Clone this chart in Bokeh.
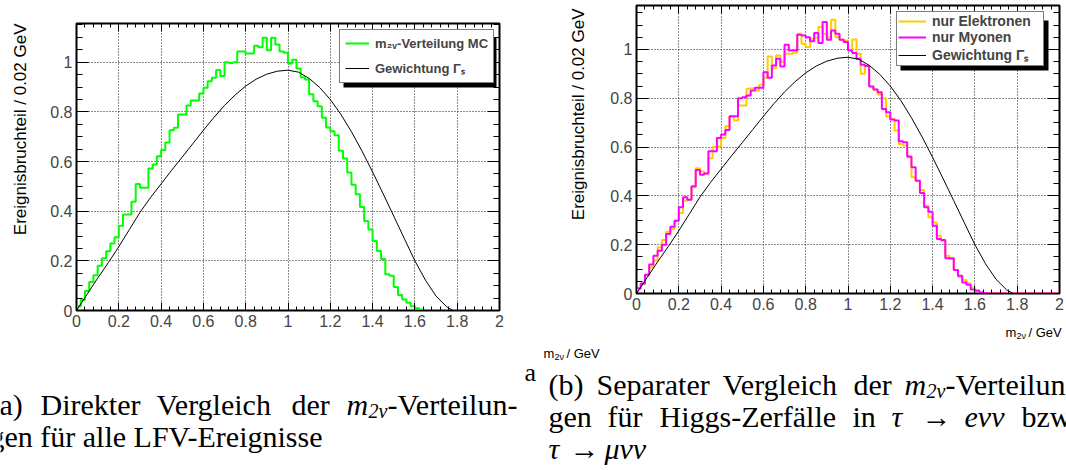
from math import pi
from bokeh.plotting import figure
from bokeh.models import (Range1d, LinearAxis, SingleIntervalTicker, Legend, LegendItem,
                          Label, BoxAnnotation, ColumnDataSource)
from bokeh.layouts import row, column
from bokeh.embed import file_html
from bokeh.resources import INLINE

# ---------------- data ----------------
BIN_WIDTH = 0.02
bin_edges = [round(i * BIN_WIDTH, 2) for i in range(101)]

mc_alle = [
    0.017, 0.042, 0.079, 0.115, 0.142, 0.180, 0.210, 0.239, 0.270, 0.295,
    0.341, 0.387, 0.387, 0.438, 0.510, 0.494, 0.494, 0.572, 0.588, 0.621,
    0.646, 0.677, 0.726, 0.736, 0.789, 0.789, 0.826, 0.846, 0.846, 0.874,
    0.897, 0.923, 0.937, 0.969, 0.945, 1.000, 0.997, 1.000, 1.043, 1.043,
    1.035, 1.035, 1.066, 1.060, 1.099, 1.048, 1.099, 1.071, 1.043, 1.038,
    0.995, 1.010, 0.975, 0.940, 0.930, 0.871, 0.843, 0.823, 0.776, 0.737,
    0.722, 0.706, 0.643, 0.612, 0.556, 0.507, 0.468, 0.417, 0.360, 0.326,
    0.280, 0.240, 0.207, 0.146, 0.140, 0.095, 0.062, 0.044, 0.031, 0.017,
    0.009, 0.004, 0.0, 0.0, 0.0, 0.0, 0.0, 0.0, 0.0, 0.0,
    0.0, 0.0, 0.0, 0.0, 0.0, 0.0, 0.0, 0.0, 0.0, 0.0,
]

nur_elektronen = [
    0.018, 0.038, 0.077, 0.107, 0.135, 0.190, 0.219, 0.253, 0.264, 0.298,
    0.330, 0.380, 0.384, 0.435, 0.513, 0.500, 0.492, 0.554, 0.600, 0.603,
    0.637, 0.685, 0.726, 0.709, 0.770, 0.770, 0.839, 0.841, 0.832, 0.855,
    0.884, 0.971, 0.923, 0.975, 0.950, 0.982, 0.982, 0.986, 1.064, 1.023,
    1.010, 1.044, 1.048, 1.092, 1.064, 1.050, 1.122, 1.050, 1.040, 1.037,
    0.999, 1.041, 0.982, 0.900, 0.932, 0.848, 0.836, 0.815, 0.800, 0.725,
    0.715, 0.668, 0.613, 0.606, 0.558, 0.476, 0.462, 0.424, 0.360, 0.312,
    0.291, 0.237, 0.216, 0.155, 0.141, 0.096, 0.068, 0.055, 0.041, 0.025,
    0.014, 0.005, 0.001, 0.0, 0.0, 0.0, 0.0, 0.0, 0.0, 0.0,
    0.0, 0.0, 0.0, 0.0, 0.0, 0.0, 0.0, 0.0, 0.0, 0.0,
]

nur_myonen = [
    0.022, 0.041, 0.077, 0.119, 0.155, 0.175, 0.200, 0.244, 0.274, 0.298,
    0.353, 0.394, 0.384, 0.439, 0.506, 0.487, 0.492, 0.583, 0.583, 0.637,
    0.651, 0.670, 0.726, 0.726, 0.800, 0.804, 0.811, 0.832, 0.843, 0.843,
    0.907, 0.884, 0.934, 0.962, 0.930, 1.019, 0.996, 0.996, 1.060, 1.057,
    1.050, 1.034, 1.067, 1.026, 1.112, 1.040, 1.078, 1.064, 1.040, 1.030,
    0.996, 0.985, 0.962, 0.937, 0.932, 0.848, 0.836, 0.825, 0.756, 0.743,
    0.713, 0.709, 0.624, 0.620, 0.561, 0.517, 0.462, 0.412, 0.353, 0.335,
    0.278, 0.223, 0.219, 0.144, 0.144, 0.096, 0.073, 0.045, 0.036, 0.016,
    0.011, 0.004, 0.002, 0.0, 0.0, 0.0, 0.0, 0.0, 0.0, 0.0,
    0.0, 0.0, 0.0, 0.0, 0.0, 0.0, 0.0, 0.0, 0.0, 0.0,
]

# weighting curve Gamma_s
gewicht_m = [0.0, 0.05, 0.10, 0.15, 0.20, 0.25, 0.30, 0.35, 0.40, 0.45,
             0.50, 0.55, 0.60, 0.65, 0.70, 0.75, 0.80, 0.85, 0.90, 0.95,
             1.00, 1.05, 1.10, 1.15, 1.20, 1.25, 1.30, 1.35, 1.40, 1.45,
             1.50, 1.55, 1.60, 1.65, 1.70, 1.75, 1.78, 1.90, 2.00]
gewicht_w = [0.0, 0.065, 0.130, 0.192, 0.257, 0.326, 0.395, 0.455, 0.510, 0.565,
             0.618, 0.672, 0.726, 0.778, 0.826, 0.868, 0.904, 0.932, 0.952, 0.964,
             0.968, 0.960, 0.935, 0.898, 0.850, 0.790, 0.720, 0.642, 0.558, 0.470,
             0.380, 0.290, 0.200, 0.122, 0.058, 0.015, 0.0, 0.0, 0.0]

x_tick_overrides = {0: "0", 1: "1", 2: "2"}
y_tick_overrides = {0: "0", 1: "1"}

Y_TITLE = "Ereignisbruchteil / 0.02 GeV"

SANS = "Liberation Sans"
SERIF = "Liberation Serif"


def hist_source(values):
    return ColumnDataSource(dict(x=bin_edges, y=list(values) + [values[-1]]))


def make_panel(width, height, bl, br, bt, bb, ymax):
    p = figure(width=width, height=height, x_range=Range1d(0, 2), y_range=Range1d(0, ymax),
               output_backend="svg", toolbar_location=None,
               min_border_left=bl, min_border_right=br, min_border_top=bt, min_border_bottom=bb,
               background_fill_color="white", border_fill_color="white")
    p.frame_align = False
    xt = SingleIntervalTicker(interval=0.2, num_minor_ticks=5)
    yt = SingleIntervalTicker(interval=0.2, num_minor_ticks=4)
    ax = p.below[0]
    ay = p.left[0]
    ax.ticker = xt
    ay.ticker = yt
    p.xgrid.ticker = xt
    p.ygrid.ticker = yt
    for g in (p.xgrid, p.ygrid):
        g.grid_line_color = "black"
        g.grid_line_dash = "1 2"
        g.grid_line_width = 1
        g.grid_line_alpha = 0.9
    p.outline_line_color = "black"
    p.outline_line_width = 2

    ax.major_tick_in = 8; ax.major_tick_out = 0
    ax.minor_tick_in = 4; ax.minor_tick_out = 0
    ax.major_label_text_font = SANS
    ax.major_label_text_font_size = "16px"
    ax.major_label_standoff = 4
    ax.major_label_overrides = x_tick_overrides
    ax.axis_line_color = "black"

    ay.major_tick_in = 12; ay.major_tick_out = 0
    ay.minor_tick_in = 6; ay.minor_tick_out = 0
    ay.major_label_text_font = SANS
    ay.major_label_text_font_size = "16px"
    ay.major_label_standoff = 4
    ay.major_label_overrides = y_tick_overrides
    ay.axis_line_color = "black"

    top = LinearAxis(ticker=xt, major_label_text_font_size="0px", major_label_text_color=None,
                     major_label_standoff=0,
                     major_tick_in=8, major_tick_out=0, minor_tick_in=4, minor_tick_out=0)
    right = LinearAxis(ticker=yt, major_label_text_font_size="0px", major_label_text_color=None,
                       major_label_standoff=0,
                       major_tick_in=12, major_tick_out=0, minor_tick_in=6, minor_tick_out=0)
    p.add_layout(top, "above")
    p.add_layout(right, "right")
    return p


def add_legend(p, items, vx, vy, w, h, font_size, padding, spacing, glyph_w, label_w, item_h):
    shadow = BoxAnnotation(left=vx + 4, right=vx + w + 4, bottom=vy - 4, top=vy + h - 4,
                           left_units="screen", right_units="screen",
                           bottom_units="screen", top_units="screen",
                           fill_color="black", fill_alpha=1.0, line_color=None)
    p.add_layout(shadow)
    leg = Legend(items=items, location=(vx, vy), margin=0, padding=padding, spacing=spacing,
                 glyph_width=glyph_w, glyph_height=item_h, label_height=item_h,
                 label_width=label_w, label_standoff=6,
                 label_text_font=SANS, label_text_font_size=f"{font_size}px",
                 label_text_font_style="bold", border_line_color="black", border_line_width=1,
                 background_fill_color="white", background_fill_alpha=1.0)
    p.add_layout(leg)


def strip(x0, x1, y0, y1):
    """A plain text area whose data units are the page's pixels (y downwards)."""
    s = figure(width=x1 - x0, height=y1 - y0, x_range=Range1d(x0, x1), y_range=Range1d(y1, y0),
               x_axis_type=None, y_axis_type=None, output_backend="svg", toolbar_location=None,
               min_border=0, outline_line_color=None, background_fill_color="white",
               border_fill_color="white")
    s.frame_align = False
    s.grid.visible = False
    return s


def txt(s, gx, gy, text, size, style="normal", font=SERIF, align="left",
        baseline="alphabetic", angle=0.0):
    s.add_layout(Label(x=gx, y=gy, text=text, text_font=font, text_font_size=f"{size}px",
                       text_font_style=style, text_align=align, text_baseline=baseline,
                       angle=angle, text_color="black"))


# ---------------- left panel (page frame x 76..499, y 23..310) ----------------
ystrip_l = strip(0, 40, 0, 340)
txt(ystrip_l, 20, 23, Y_TITLE, 17, font=SANS, align="right", baseline="middle", angle=pi / 2)

pl = make_panel(502, 340, 36, 43, 23, 30, 1.156)
r_mc = pl.step(x="x", y="y", source=hist_source(mc_alle), mode="after",
               line_color="#00ff00", line_width=2)
r_gl = pl.line(gewicht_m, gewicht_w, line_color="black", line_width=1)
add_legend(pl, [LegendItem(label="m\u2082\u1d65-Verteilung MC", renderers=[r_mc]),
                LegendItem(label="Gewichtung \u0393\u209b", renderers=[r_gl])],
           263, 227, 153, 50, 13, 5, 8, 24, 113, 16)

capL = strip(0, 542, 340, 470)
txt(capL, 524, 372, "a", 26)
CS = 30  # caption font size
L1, L2 = 404, 436
# line 1 (justified)
txt(capL, -11, L1, "(a)", CS)
txt(capL, 40, L1, "Direkter", CS)
txt(capL, 156, L1, "Vergleich", CS)
txt(capL, 291, L1, "der", CS)
txt(capL, 346, L1, "m", CS, style="italic")
txt(capL, 368, L1 + 6, "2\u03bd", 20, style="italic")
txt(capL, 387, L1, "-Verteilun-", CS)
# line 2
txt(capL, -11, L2, "gen f\u00fcr alle LFV-Ereignisse", CS)

# ---------------- right panel (page frame x 636..1059, y 5..293) ----------------
ystrip_r = strip(542, 592, 0, 320)
txt(ystrip_r, 578, 8, Y_TITLE, 17, font=SANS, align="right", baseline="middle", angle=pi / 2)

pr = make_panel(474, 320, 44, 7, 5, 27, 1.18)
r_e = pr.step(x="x", y="y", source=hist_source(nur_elektronen), mode="after",
              line_color="#ffcc00", line_width=2)
r_m = pr.step(x="x", y="y", source=hist_source(nur_myonen), mode="after",
              line_color="#ff00ff", line_width=2)
r_gr = pr.line(gewicht_m, gewicht_w, line_color="black", line_width=1)
add_legend(pr, [LegendItem(label="nur Elektronen", renderers=[r_e]),
                LegendItem(label="nur Myonen", renderers=[r_m]),
                LegendItem(label="Gewichtung \u0393\u209b", renderers=[r_gr])],
           260, 227, 148, 50, 14, 1, 0, 28, 110, 16)

capR = strip(542, 1066, 320, 470)
# x-axis titles (m_2nu / GeV) of both panels
for gx, gy in ((543, 353), (1005, 332)):
    txt(capR, gx, gy, "m", 13, font=SANS)
    txt(capR, gx + 11, gy + 3, "2\u03bd", 9, font=SANS)
    txt(capR, gx + 23, gy, "/ GeV", 13, font=SANS)
R1, R2, R3 = 384, 416, 448
# caption (b), line 1 (justified)
txt(capR, 548, R1, "(b)", CS)
txt(capR, 596, R1, "Separater", CS)
txt(capR, 722, R1, "Vergleich", CS)
txt(capR, 853, R1, "der", CS)
txt(capR, 904, R1, "m", CS, style="italic")
txt(capR, 926, R1 + 6, "2\u03bd", 20, style="italic")
txt(capR, 945, R1, "-Verteilun-", CS)
# line 2
txt(capR, 548, R2, "gen", CS)
txt(capR, 607, R2, "f\u00fcr", CS)
txt(capR, 659, R2, "Higgs-Zerf\u00e4lle", CS)
txt(capR, 852, R2, "in", CS)
txt(capR, 891, R2, "\u03c4", CS, style="italic")
txt(capR, 921, R2, "\u2192", CS)
txt(capR, 964, R2, "e\u03bd\u03bd", CS, style="italic")
txt(capR, 1021, R2, "bzw.", CS)
# line 3
txt(capR, 548, R3, "\u03c4", CS, style="italic")
txt(capR, 569, R3, "\u2192", CS)
txt(capR, 604, R3, "\u03bc\u03bd\u03bd", CS, style="italic")

left_col = column(row(ystrip_l, pl), capL)
right_col = column(row(ystrip_r, pr), capR)
layout = row(left_col, right_col)
open("out.html", "w").write(file_html(layout, INLINE))
